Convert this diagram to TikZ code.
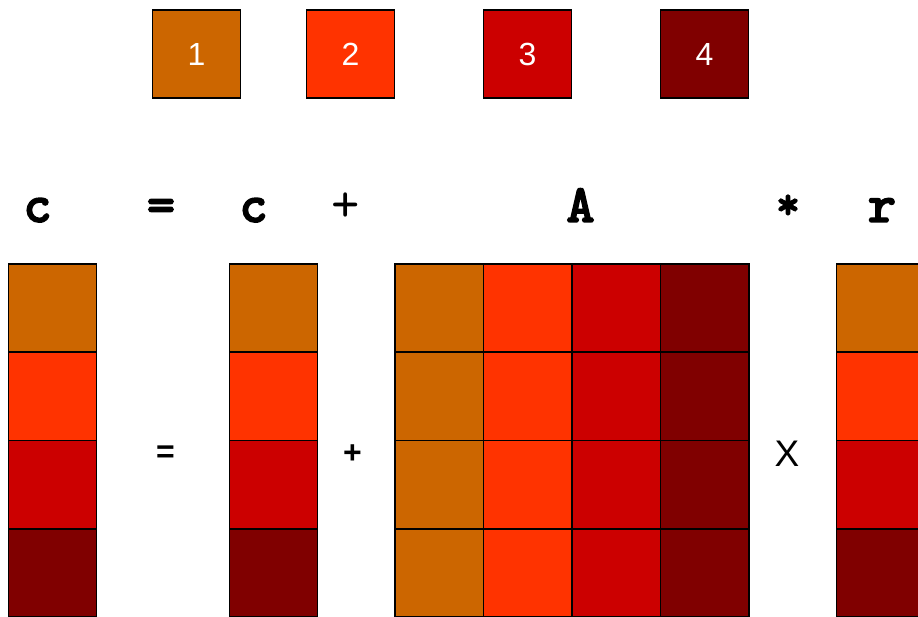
\documentclass[tikz,border=0pt]{standalone}
\usepackage{fontspec}
\setmainfont{Liberation Sans}
\newfontfamily\codefont{lmmonolt10-bold}[Extension=.otf, FakeBold=2.5]
\newfontfamily\codethin{lmmono10-regular}[Extension=.otf]
\usetikzlibrary{positioning}
\definecolor{part1}{HTML}{CC6600}
\definecolor{part2}{HTML}{FF3300}
\definecolor{part3}{HTML}{CC0000}
\definecolor{part4}{HTML}{800000}

\begin{document}
\begin{tikzpicture}[
  x=1pt, y=-1pt,
  cell/.style={draw, line width=1.6pt, minimum size=88.3pt, inner sep=0pt},
  key/.style={cell, text=white, font=\fontsize{32}{32}\selectfont},
  var/.style={anchor=base, font=\codefont\fontsize{54}{54}\selectfont},
  sym/.style={anchor=base, font=\codethin\fontsize{54}{54}\selectfont},
  op/.style={anchor=base, font=\fontsize{32}{32}\selectfont}
]
\useasboundingbox (0,0) rectangle (918,617);
\clip (0,0) rectangle (918,617);

% colour key
\node[key, fill=part1] (key1) at (196.5,54) {1};
\node[key, fill=part2] (key2) at (350.5,54) {2};
\node[key, fill=part3] (key3) at (527.5,54) {3};
\node[key, fill=part4] (key4) at (704.5,54) {4};

% equation line
\node[var] (lhs) at (37.5,222) {c};
\node[var] (eqtop) at (161,222) {=};
\node[sym] (plustop) at (345.5,222) {+};
\node[var] (cold) at (253.5,222) {c};
\node[var] (mat) at (580.5,222) {A};
\node[var, font=\codefont\fontsize{46}{46}\selectfont] (timestop) at (788,219) {*};
\node[var] (vec) at (882,222) {r};

% column vectors c and r
\foreach \i in {1,...,4} {
  \node[cell, fill=part\i] (cnew\i) at (52.5,219.9+88.25*\i) {};
  \node[cell, fill=part\i] (cold\i) at (273.5,219.9+88.25*\i) {};
  \node[cell, fill=part\i] (r\i) at (880.5,219.9+88.25*\i) {};
}

% matrix A, one colour per column
\foreach \i in {1,...,4} {
  \foreach \j in {1,...,4} {
    \node[cell, fill=part\j] (a\i\j) at (350.75+88.5*\j,219.9+88.25*\i) {};
  }
}

\node[op, font=\bfseries\fontsize{32}{32}\selectfont] (eqlow) at (165.5,462) {=};
\node[op, font=\bfseries\fontsize{32}{32}\selectfont] (pluslow) at (352.5,463) {+};
\node[op, font=\fontsize{37}{37}\selectfont] (timeslow) at (787,466) {X};
\end{tikzpicture}
\end{document}
